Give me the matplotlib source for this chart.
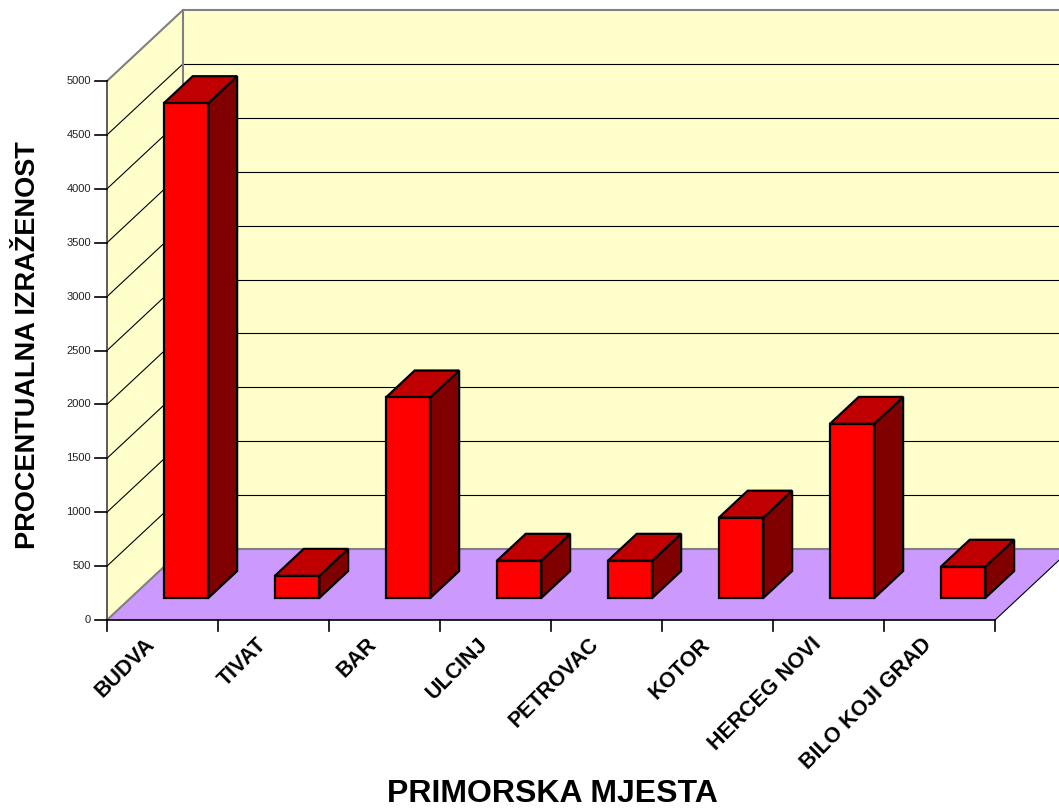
import matplotlib
matplotlib.use("Agg")
import matplotlib.pyplot as plt
from matplotlib.patches import Polygon

plt.rcParams["font.family"] = ["Liberation Sans", "DejaVu Sans"]

# ── Data ──────────────────────────────────────────────────────────────────────
places = ["BUDVA", "TIVAT", "BAR", "ULCINJ", "PETROVAC", "KOTOR",
          "HERCEG NOVI", "BILO KOJI GRAD"]
values = [4590, 205, 1860, 345, 345, 745, 1615, 290]
y_ticks = list(range(0, 5001, 500))
y_label = "PROCENTUALNA IZRAŽENOST"
x_label = "PRIMORSKA MJESTA"

# ── Geometry (oblique "3D" projection in data units) ──────────────────────────
W, H = 1059, 809
CAT_PX = 111.0             # pixels per category
VAL_PX = 539.0 / 5000      # pixels per value unit
X0_PX, Y0_PX = 107, 620    # origin of the front plane in pixels
DEPTH = (76 / CAT_PX, 71 / VAL_PX)   # full floor depth in data units
BAR_W = 0.40
D0, D1 = 0.31, 0.69        # bar depth inside the floor

wall_c, floor_c = "#FFFFCC", "#CC99FF"
front_c, top_c, side_c = "#FF0000", "#C00000", "#800000"
edge_gray = "#808080"


def sh(x, y, d):
    return (x + d * DEPTH[0], y + d * DEPTH[1])


def px(xp, yp):
    # pixel position -> data coords (for text placement only)
    return ((xp - X0_PX) / CAT_PX, (Y0_PX - yp) / VAL_PX)


fig = plt.figure(figsize=(W / 100, H / 100), dpi=100)
ax = fig.add_axes([0, 0, 1, 1])
ax.set_xlim(-X0_PX / CAT_PX, (W - X0_PX) / CAT_PX)
ax.set_ylim(-(H - Y0_PX) / VAL_PX, Y0_PX / VAL_PX)
ax.axis("off")

n = len(places)
ymax = y_ticks[-1]

# walls and floor
ax.add_patch(Polygon([(0, 0), (0, ymax), sh(0, ymax, 1), sh(0, 0, 1)],
                     closed=True, fc=wall_c, ec="none", zorder=1))
ax.add_patch(Polygon([sh(0, 0, 1), sh(0, ymax, 1), sh(n + 1, ymax, 1), sh(n + 1, 0, 1)],
                     closed=True, fc=wall_c, ec="none", zorder=1))
ax.add_patch(Polygon([(0, 0), (n, 0), sh(n, 0, 1), sh(0, 0, 1)],
                     closed=True, fc=floor_c, ec="none", zorder=2))

# gridlines on left and back wall
for v in y_ticks[1:-1]:
    a, b = sh(0, v, 1), sh(n + 1, v, 1)
    ax.plot([0, a[0]], [v, a[1]], color="black", lw=0.8, zorder=1.5)
    ax.plot([a[0], b[0]], [a[1], b[1]], color="black", lw=0.8, zorder=1.5)

# wall edges
tl, bl = sh(0, ymax, 1), sh(0, 0, 1)
tr, br = sh(n + 1, ymax, 1), sh(n, 0, 1)
ax.plot([0, tl[0], tr[0]], [ymax, tl[1], tr[1]], color=edge_gray, lw=1.5, zorder=3)
ax.plot([tl[0], bl[0]], [tl[1], bl[1]], color=edge_gray, lw=1.5, zorder=1.6)
ax.plot([bl[0], br[0]], [bl[1], br[1]], color=edge_gray, lw=1.5, zorder=2.1)
ax.plot([0, bl[0]], [0, bl[1]], color=edge_gray, lw=1.5, zorder=2.1)
ax.plot([n, br[0]], [0, br[1]], color="black", lw=0.8, zorder=2.1)

# axes lines and ticks
ax.plot([0, 0], [0, ymax], color="#404040", lw=1.2, zorder=3)
ax.plot([0, n], [0, 0], color="black", lw=1.2, zorder=3)
for v in y_ticks:
    ax.plot([-12 / CAT_PX, 0], [v, v], color="black", lw=1.2, zorder=3)
    ax.text(-16 / CAT_PX, v, str(v), ha="right", va="center",
            fontsize=8, color="#222222")
for i in range(n + 1):
    ax.plot([i, i], [0, -11 / VAL_PX], color="black", lw=1.2, zorder=3)

# bars
for i, v in enumerate(values):
    x0 = i + (1 - BAR_W) / 2
    x1 = x0 + BAR_W
    z = 5 + i
    front = [sh(x0, 0, D0), sh(x1, 0, D0), sh(x1, v, D0), sh(x0, v, D0)]
    side = [sh(x1, 0, D0), sh(x1, 0, D1), sh(x1, v, D1), sh(x1, v, D0)]
    top = [sh(x0, v, D0), sh(x1, v, D0), sh(x1, v, D1), sh(x0, v, D1)]
    for poly, c in [(side, side_c), (top, top_c), (front, front_c)]:
        ax.add_patch(Polygon(poly, closed=True, fc=c, ec="black", lw=1.6,
                             joinstyle="miter", zorder=z))

# category labels
for i, name in enumerate(places):
    ax.text(i + 0.5 - 18 / CAT_PX, -14 / VAL_PX, name, rotation=45,
            ha="right", va="top", rotation_mode="anchor",
            fontsize=15.5, fontweight="bold", color="black")

# axis titles
ax.text(*px(28, 345), y_label, rotation=90, ha="center", va="center",
        fontsize=19.5, fontweight="bold")
ax.text(*px(552, 794), x_label, ha="center", va="center",
        fontsize=23, fontweight="bold")

fig.savefig("out.png", dpi=100)
